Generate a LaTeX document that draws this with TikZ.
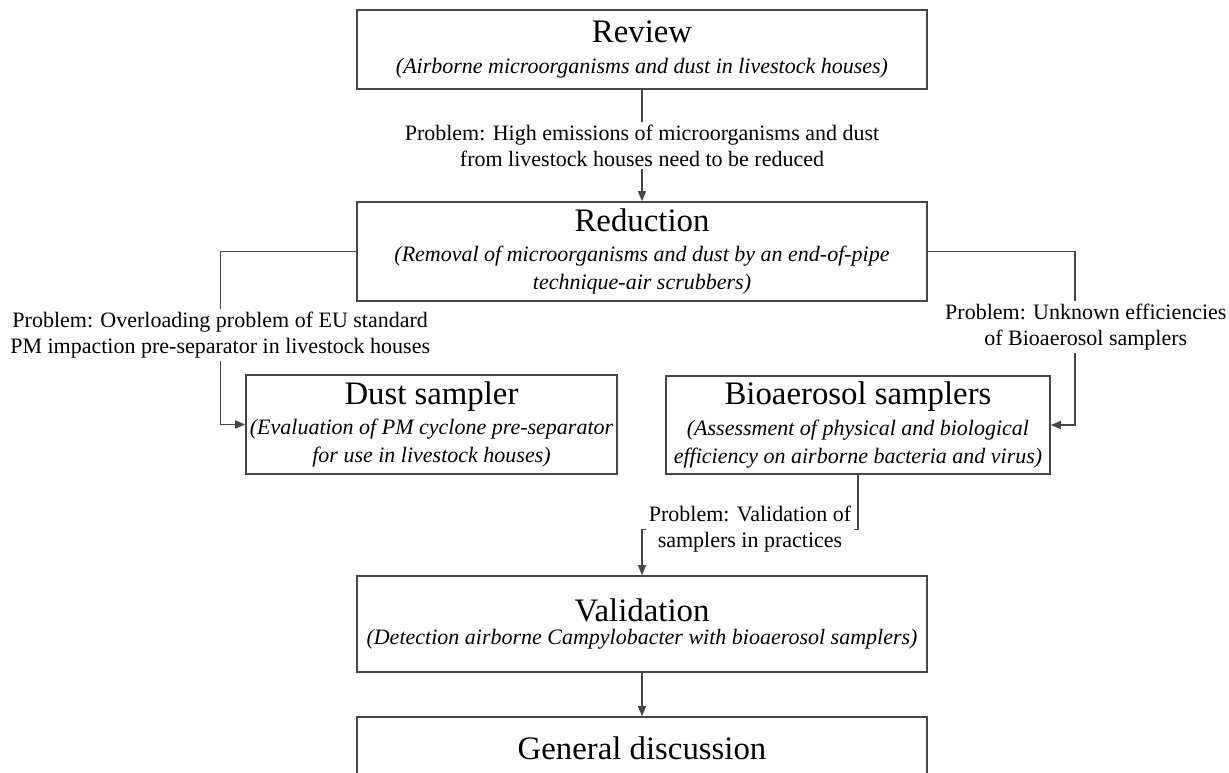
\documentclass[tikz,border=0pt]{standalone}
\usepackage{fontspec}
\setmainfont{Liberation Serif}
\definecolor{flowgray}{RGB}{70,70,70}
\usetikzlibrary{arrows.meta,positioning,calc}
\newcommand{\stagehead}[1]{{\fontsize{16.4}{19}\selectfont\upshape #1}}

\begin{document}
\begin{tikzpicture}[x=0.5pt,y=-0.5pt,
  stagebox/.style={draw=flowgray,line width=0.8pt,fill=white,minimum width=285pt,
    minimum height=49.5pt,align=center,inner sep=1pt,
    font=\fontsize{11}{14}\selectfont\itshape},
  probnote/.style={fill=white,align=center,inner sep=1.5pt,
    font=\fontsize{11}{13}\selectfont},
  stagelink/.style={draw=flowgray,line width=0.7pt,
    -{Stealth[length=5pt,width=4pt,inset=0pt]}}
]
  \useasboundingbox (0,0) rectangle (1229,772);

  % Main stages
  \node[stagebox,minimum height=39.5pt] (review) at (642,49.5) {
    \stagehead{Review}\\[1.75pt]
    (Airborne microorganisms and dust in livestock houses)};
  \node[stagebox] (reduction) at (642,251.5) {
    \stagehead{Reduction}\\[1pt]
    (Removal of microorganisms and dust by an end-of-pipe\\
    technique-air scrubbers)};

  % Samplers
  \node[stagebox,minimum width=185.5pt] (dust) at (431.5,424.5) {
    \stagehead{Dust sampler}\\[1pt]
    (Evaluation of PM cyclone pre-separator\\
    for use in livestock houses)};
  \node[stagebox,minimum width=192pt,minimum height=49pt] (bio) at (858,425) {
    \stagehead{Bioaerosol samplers}\\[1.5pt]
    (Assessment of physical and biological\\
    efficiency on airborne bacteria and virus)};

  % Validation and discussion
  \node[stagebox,minimum height=48pt] (validation) at (642,624) {
    \stagehead{Validation}\\[-2.25pt]
    (Detection airborne Campylobacter with bioaerosol samplers)};
  \node[stagebox,minimum height=31pt] (general) at (642,748) {
    \stagehead{General discussion}};

  % Links with problems
  \draw[stagelink] (review) -- node[probnote] {Problem: High emissions of microorganisms and dust\\
    from livestock houses need to be reduced} (reduction);
  \draw[stagelink] (reduction.west) -| node[probnote,pos=0.75,yshift=1.5pt] {Problem: Overloading problem of EU standard\\
    PM impaction pre-separator in livestock houses} ([xshift=-12.5pt]dust.west) -- (dust.west);
  \draw[stagelink] (reduction.east) -| node[probnote,pos=0.75,xshift=5.5pt,yshift=5.75pt] {Problem: Unknown efficiencies\\
    of Bioaerosol samplers} ([xshift=12pt]bio.east) -- (bio.east);
  \draw[stagelink] (bio.south) |- node[probnote,pos=0.75] {Problem: Validation of\\
    samplers in practices} ([yshift=23pt]validation.north) -- (validation.north);
  \draw[stagelink] (validation) -- (general);
\end{tikzpicture}
\end{document}
